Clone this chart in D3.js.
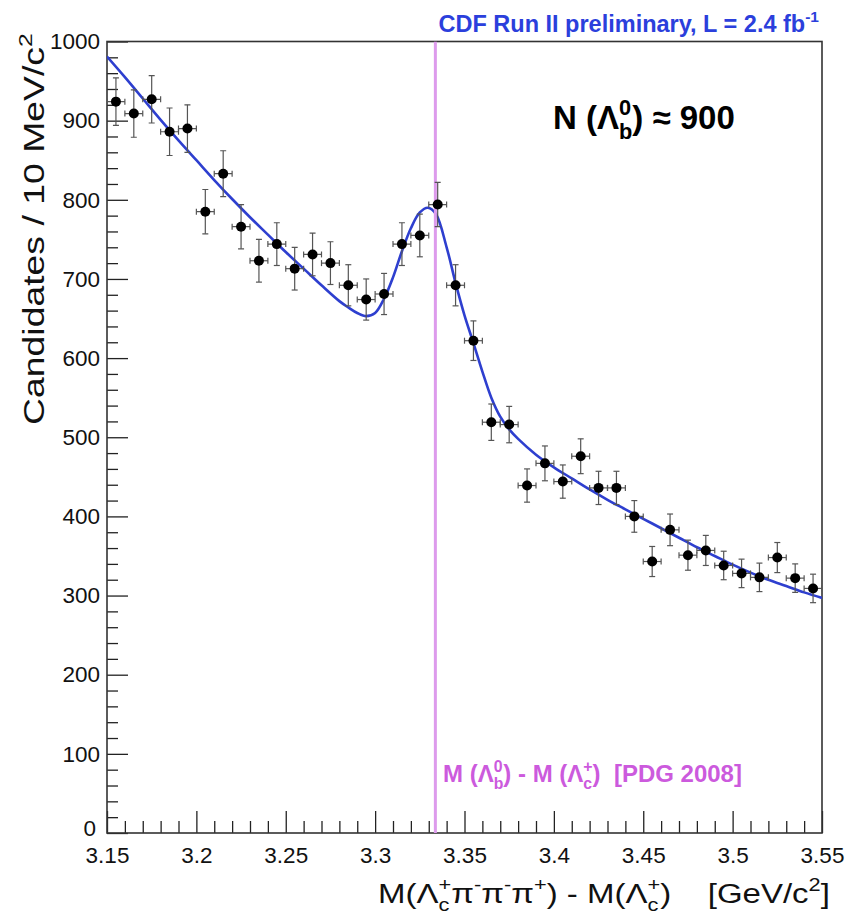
<!DOCTYPE html>
<html><head><meta charset="utf-8">
<script src="https://cdn.jsdelivr.net/npm/d3@7"></script>
<style>
html,body{margin:0;padding:0;background:#fff;}
svg{display:block;font-family:"Liberation Sans",Arial,Helvetica,sans-serif;}
text{white-space:pre;}
</style></head><body>
<svg id="c" width="857" height="920"></svg>
<script>
// ---- data ----
const binCenters = [3.155,3.165,3.175,3.185,3.195,3.205,3.215,3.225,3.235,3.245,
                    3.255,3.265,3.275,3.285,3.295,3.305,3.315,3.325,3.335,3.345,
                    3.355,3.365,3.375,3.385,3.395,3.405,3.415,3.425,3.435,3.445,
                    3.455,3.465,3.475,3.485,3.495,3.505,3.515,3.525,3.535,3.545];
const counts = [924,909,927,886,890,785,833,766,723,744,
                713,731,720,692,674,681,744,755,794,692,
                622,519,516,439,467,444,476,436,436,400,
                343,383,351,357,338,328,323,348,322,309];
const errors = [30,30,30,30,30,28,29,28,27,27,
                27,27,27,26,26,26,27,27,28,26,
                25,23,23,21,22,21,22,21,21,20,
                19,20,19,19,18,18,18,19,18,18];
const binHalfWidth = 0.005;
const fitX = [3.15,3.16,3.17,3.18,3.19,3.20,3.21,3.22,3.23,3.24,3.25,3.26,3.27,3.28,3.285,3.29,3.295,3.30,3.305,3.31,3.315,3.32,3.325,3.3295,3.334,3.34,3.345,3.35,3.355,3.36,3.365,3.37,3.375,3.38,3.39,3.40,3.41,3.42,3.43,3.44,3.45,3.46,3.47,3.48,3.49,3.50,3.51,3.52,3.53,3.54,3.55];
const fitY = [981,955,928,901,875,850,825,801,778,756,734,713,692,672,664,657,653,657,675,702,735,764,784,790,782,740,695,654,619,583,550,526,510,498,478,462,448,434,421,409,397,385,373,361,350,339,329,320,312,304,297];
const pdgMass = 3.3337;
const yTicks = [0,100,200,300,400,500,600,700,800,900,1000];
const xTicks = [3.15,3.2,3.25,3.3,3.35,3.4,3.45,3.5,3.55];
const xTickLabels = ["3.15","3.2","3.25","3.3","3.35","3.4","3.45","3.5","3.55"];

// ---- layout ----
const W = 857, H = 920, m = {l:107, t:41.5, r:35, b:87};
const svg = d3.select('#c');
const x = d3.scaleLinear().domain([3.15,3.55]).range([m.l, W-m.r]);
const y = d3.scaleLinear().domain([0,1000]).range([H-m.b, m.t]);

svg.append('defs').append('clipPath').attr('id','pc')
  .append('rect').attr('x',m.l).attr('y',m.t).attr('width',W-m.l-m.r).attr('height',H-m.t-m.b);

// minor ticks
const yMinor = d3.range(0,1001,20).filter(v => v % 100 !== 0);
const xMinor = d3.range(315,356,1).map(v => v/100).filter(v => Math.round(v*100) % 5 !== 0);

const gy = svg.append('g').attr('transform',`translate(${m.l},0)`);
gy.call(d3.axisLeft(y).tickValues(yTicks).tickSize(-21).tickPadding(7).tickFormat(d3.format('d')));
gy.append('g').call(d3.axisLeft(y).tickValues(yMinor).tickSize(-11).tickFormat(''));
const gx = svg.append('g').attr('transform',`translate(0,${H-m.b})`);
gx.call(d3.axisBottom(x).tickValues(xTicks).tickSize(-22).tickPadding(14).tickFormat((d,i)=>xTickLabels[i]));
gx.append('g').call(d3.axisBottom(x).tickValues(xMinor).tickSize(-12).tickFormat(''));
svg.selectAll('.domain').remove();
svg.selectAll('.tick line').attr('stroke','#222').attr('stroke-width',1.3);
gy.selectAll('.tick text').attr('font-size',22.5).attr('fill','#111').attr('font-family','"Liberation Sans",Arial,sans-serif');
gx.selectAll('.tick text').attr('font-size',22.5).attr('fill','#111').attr('font-family','"Liberation Sans",Arial,sans-serif');
// the "0" label sits a bit higher / left so it clears the first x label
gy.selectAll('.tick').filter(d => d === 0).select('text').attr('x',-11).attr('dy','0.1em');

// frame
svg.append('rect').attr('x',m.l).attr('y',m.t).attr('width',W-m.l-m.r).attr('height',H-m.t-m.b)
  .attr('fill','none').attr('stroke','#333').attr('stroke-width',1.6);

// fit curve
const plot = svg.append('g').attr('clip-path','url(#pc)');
plot.append('path').datum(fitX.map((v,i)=>[v,fitY[i]]))
  .attr('d', d3.line().x(d=>x(d[0])).y(d=>y(d[1])).curve(d3.curveCatmullRom.alpha(0.5)))
  .attr('fill','none').attr('stroke','#2e3fcf').attr('stroke-width',2.6);

// PDG line
plot.append('line').attr('x1',x(pdgMass)).attr('x2',x(pdgMass)).attr('y1',y(0)).attr('y2',m.t)
  .attr('stroke','#dd9bec').attr('stroke-width',3);

// data points
const pts = plot.append('g').selectAll('g').data(binCenters.map((c,i)=>({c, n:counts[i], e:errors[i]})))
  .join('g');
const eb = '#555';
pts.append('line').attr('x1',d=>x(d.c)).attr('x2',d=>x(d.c)).attr('y1',d=>y(d.n-d.e)).attr('y2',d=>y(d.n+d.e)).attr('stroke',eb).attr('stroke-width',1.2);
pts.append('line').attr('x1',d=>x(d.c)-3).attr('x2',d=>x(d.c)+3).attr('y1',d=>y(d.n-d.e)).attr('y2',d=>y(d.n-d.e)).attr('stroke',eb).attr('stroke-width',1.2);
pts.append('line').attr('x1',d=>x(d.c)-3).attr('x2',d=>x(d.c)+3).attr('y1',d=>y(d.n+d.e)).attr('y2',d=>y(d.n+d.e)).attr('stroke',eb).attr('stroke-width',1.2);
pts.append('line').attr('x1',d=>x(d.c-binHalfWidth)).attr('x2',d=>x(d.c+binHalfWidth)).attr('y1',d=>y(d.n)).attr('y2',d=>y(d.n)).attr('stroke',eb).attr('stroke-width',1.2);
pts.append('line').attr('x1',d=>x(d.c-binHalfWidth)).attr('x2',d=>x(d.c-binHalfWidth)).attr('y1',d=>y(d.n)-3).attr('y2',d=>y(d.n)+3).attr('stroke',eb).attr('stroke-width',1.2);
pts.append('line').attr('x1',d=>x(d.c+binHalfWidth)).attr('x2',d=>x(d.c+binHalfWidth)).attr('y1',d=>y(d.n)-3).attr('y2',d=>y(d.n)+3).attr('stroke',eb).attr('stroke-width',1.2);
pts.append('circle').attr('cx',d=>x(d.c)).attr('cy',d=>y(d.n)).attr('r',5).attr('fill','#000');

// ---- rich text helper (sup/sub, stacked) ----
function rich(t, parts, F) {
  const s = 0.66*F; let off = 0, pend = 0;
  parts.forEach(p => {
    if (typeof p === 'string') {
      t.append('tspan').attr('dx', pend).attr('dy', -off).text(p); off = 0; pend = 0;
    } else if (p.sup !== undefined && p.sub !== undefined) {
      const a = t.append('tspan').attr('font-size', s).attr('dx', pend).attr('dy', -0.42*F - off).text(p.sup);
      const aw = a.node().getComputedTextLength();
      const b = t.append('tspan').attr('font-size', s).attr('dx', -aw).attr('dy', 0.42*F + 0.30*F).text(p.sub);
      const bw = b.node().getComputedTextLength();
      off = 0.30*F; pend = Math.max(aw - bw, 0);
    } else if (p.sup !== undefined) {
      t.append('tspan').attr('font-size', s).attr('dx', pend).attr('dy', -0.42*F - off).text(p.sup); off = -0.42*F; pend = 0;
    } else {
      t.append('tspan').attr('font-size', s).attr('dx', pend).attr('dy', 0.30*F - off).text(p.sub); off = 0.30*F; pend = 0;
    }
  });
  return t;
}

// top title
{
  const F = 23.5;
  const t = svg.append('text').attr('x',819).attr('y',32).attr('text-anchor','end')
    .attr('font-size',F).attr('font-weight','bold').attr('fill','#2b3fdc');
  rich(t, ['CDF Run II preliminary, L = 2.4 fb', {sup:'-1'}], F);
}
// N label
{
  const F = 33;
  const t = svg.append('text').attr('x',553).attr('y',129).attr('font-size',F).attr('font-weight','bold').attr('fill','#000');
  rich(t, ['N (\u039B', {sup:'0', sub:'b'}, ') \u2248 900'], F);
}
// PDG label
{
  const F = 24;
  const t = svg.append('text').attr('x',443).attr('y',782).attr('font-size',F).attr('font-weight','bold').attr('fill','#cc5add');
  rich(t, ['M (\u039B', {sup:'0', sub:'b'}, ') - M (\u039B', {sup:'+', sub:'c'}, ')  [PDG 2008]'], F);
}
// x axis title
{
  const F = 28;
  const g = svg.append('g');
  const t = g.append('text').attr('x',0).attr('y',0).attr('font-size',F).attr('fill','#111');
  rich(t, ['M(\u039B', {sup:'+', sub:'c'}, '\u03C0', {sup:'-'}, '\u03C0', {sup:'-'}, '\u03C0', {sup:'+'}, ') - M(\u039B', {sup:'+', sub:'c'}, ')    [GeV/c', {sup:'2'}, ']'], F);
  const w = t.node().getBBox().width;
  const target = 452;
  g.attr('transform', `translate(${830 - target},903) scale(${target/w},1)`);
}
// y axis title
{
  const F = 29;
  const g = svg.append('g');
  const t = g.append('text').attr('x',0).attr('y',0).attr('font-size',F).attr('fill','#111');
  rich(t, ['Candidates / 10 MeV/c', {sup:'2'}], F);
  const w = t.node().getBBox().width;
  const target = 392;
  g.attr('transform', `translate(44,${33 + target}) rotate(-90) scale(${target/w},1)`);
}
</script>
</body></html>
